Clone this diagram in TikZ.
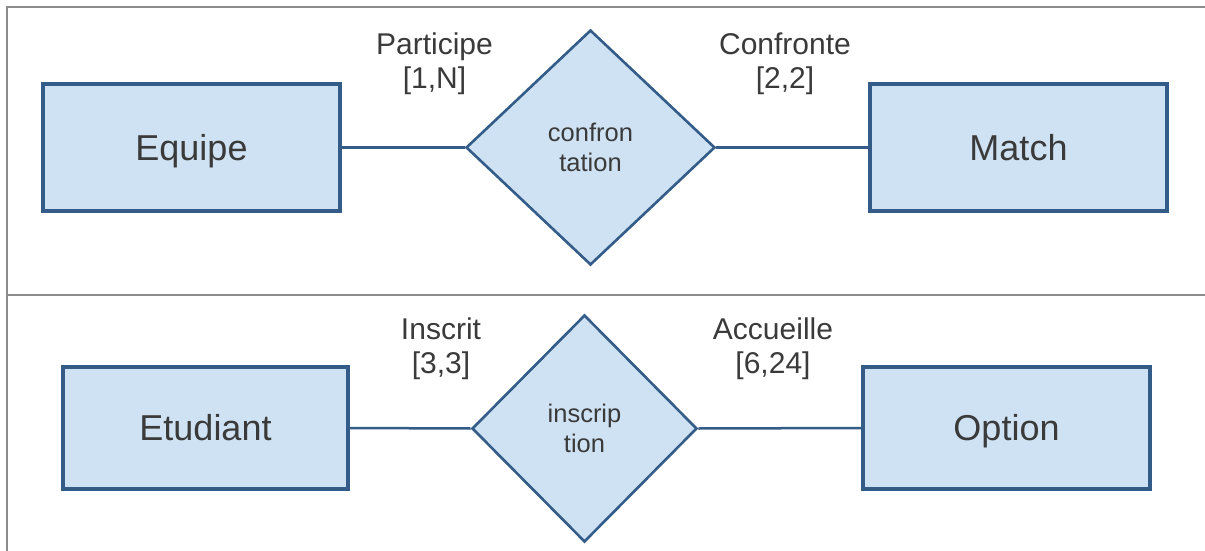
\documentclass[tikz,border=0pt]{standalone}
\usepackage{fontspec}
\setmainfont{Liberation Sans}
\usetikzlibrary{shapes.geometric}
\definecolor{boxfill}{HTML}{CFE2F3}
\definecolor{boxline}{HTML}{335C88}
\definecolor{txt}{HTML}{3A3A3A}
\definecolor{grid}{HTML}{8C8C8C}
\tikzset{
  entity/.style={draw=boxline, fill=boxfill, line width=3.2pt, inner sep=0pt,
    text=txt, font=\fontsize{36}{42}\selectfont, text height=25.8pt, text depth=0pt},
  relation/.style={diamond, draw=boxline, fill=boxfill, line width=2.6pt, inner sep=0pt,
    text=txt, align=center, font=\fontsize{25.5}{30}\selectfont},
  card/.style={text=txt, align=center, inner sep=0pt, font=\fontsize{30}{34}\selectfont},
  link/.style={draw=boxline, line width=2.5pt},
  gridline/.style={draw=grid, line width=2pt}
}
\begin{document}
\begin{tikzpicture}[x=1pt,y=-1pt]
\useasboundingbox (0,0) rectangle (1205,551);
\fill[white] (0,0) rectangle (1205,551);
% frame
\coordinate (tl) at (7,7);
\coordinate (tr) at (1205,7);
\coordinate (bl) at (7,551);
\coordinate (ml) at (7,295);
\coordinate (mr) at (1205,295);
\draw[gridline] (bl) -- (tl) -- (tr);
\draw[gridline] (ml) -- (mr);
% top row
\node[entity, minimum width=297pt, minimum height=127pt] (equipe) at (191.5,147.5) {Equipe};
\node[entity, minimum width=297pt, minimum height=127pt] (match) at (1018.5,147.5) {Match};
\node[relation, minimum width=249pt, minimum height=235pt] (conf) at (590.5,147.5) {confron\\tation};
\draw[link] (equipe.east) -- (conf.west);
\draw[link] (conf.east) -- (match.west);
\node[card] (c1) at (434.5,64) {Participe\\{}[1,N]};
\node[card] (c2) at (785,64) {Confronte\\{}[2,2]};
% bottom row
\node[entity, minimum width=285pt, minimum height=122pt] (etud) at (205.5,428) {Etudiant};
\node[entity, minimum width=287pt, minimum height=122pt] (opt) at (1006.5,428) {Option};
\node[relation, minimum width=225pt, minimum height=227pt] (insc) at (584.5,428.5) {inscrip\\tion};
\draw[link] (etud.east) -- (insc.west);
\draw[link] (insc.east) -- (opt.west);
\node[card] (c3) at (441,349) {Inscrit\\{}[3,3]};
\node[card] (c4) at (773,349) {Accueille\\{}[6,24]};
\end{tikzpicture}
\end{document}
